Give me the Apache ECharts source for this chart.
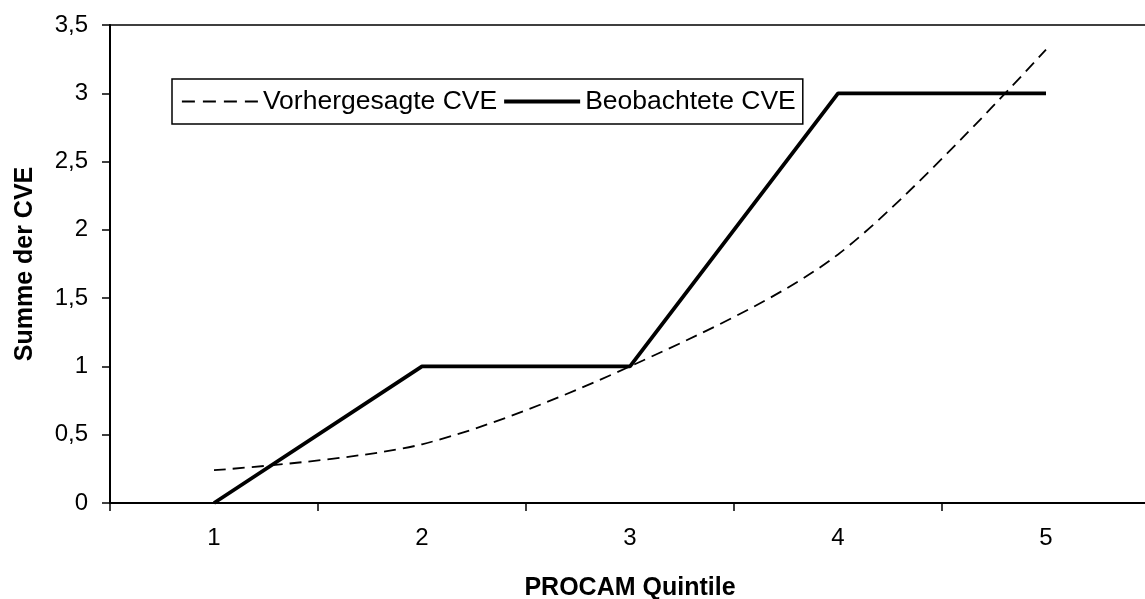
<!DOCTYPE html>
<html><head><meta charset="utf-8">
<script src="https://cdn.jsdelivr.net/npm/echarts@6/dist/echarts.min.js"></script>
<style>html,body{margin:0;padding:0;background:#fff}#c{width:1145px;height:599px}</style>
</head><body><div id="c"></div>
<script>
const categories = ['1', '2', '3', '4', '5'];
const predicted = [0.24, 0.43, 1.0, 1.82, 3.32];
const observed = [0, 1, 1, 3, 3];
const seriesNames = ['Vorhergesagte CVE', 'Beobachtete CVE'];

const chart = echarts.init(document.getElementById('c'));
const font = 'Liberation Sans, Arial, sans-serif';
chart.setOption({
  animation: false,
  backgroundColor: '#fff',
  grid: { left: 110, top: 25, right: -5, bottom: 96, outerBoundsMode: 'none', containLabel: false,
    show: true, borderColor: '#000', borderWidth: 1.5, backgroundColor: 'transparent' },
  legend: {
    left: 172, top: 79,
    itemWidth: 76, itemHeight: 12, itemGap: 5,
    padding: [9, 7, 9, 9],
    borderColor: '#000', borderWidth: 1.5,
    itemStyle: { color: 'rgba(0,0,0,0)', borderColor: 'rgba(0,0,0,0)', borderWidth: 0 },
    textStyle: { fontFamily: font, fontSize: 26.5, color: '#000' },
    data: [
      { name: seriesNames[0], lineStyle: { width: 1.8, type: [13, 8] } },
      { name: seriesNames[1], lineStyle: { width: 4 } }
    ]
  },
  xAxis: {
    type: 'category', data: categories, boundaryGap: true,
    name: 'PROCAM Quintile', nameLocation: 'middle', nameGap: 73,
    nameTextStyle: { fontFamily: font, fontSize: 25, fontWeight: 'bold', color: '#000' },
    axisLine: { lineStyle: { color: '#000', width: 2 } },
    axisTick: { show: true, length: 8, lineStyle: { color: '#000', width: 1.5 } },
    axisLabel: { fontFamily: font, fontSize: 24, color: '#000', margin: 23 },
    splitLine: { show: false }
  },
  yAxis: {
    type: 'value', min: 0, max: 3.5, interval: 0.5,
    name: 'Summe der CVE', nameLocation: 'middle', nameGap: 72, nameRotate: 90,
    nameTextStyle: { fontFamily: font, fontSize: 25, fontWeight: 'bold', color: '#000' },
    axisLine: { show: true, lineStyle: { color: '#000', width: 2 } },
    axisTick: { show: true, length: 8, lineStyle: { color: '#000', width: 1.5 } },
    axisLabel: { fontFamily: font, fontSize: 24, color: '#000', margin: 22,
      formatter: v => String(v).replace('.', ',') },
    splitLine: { show: false }
  },
  series: [
    { name: seriesNames[0], type: 'line', data: predicted, smooth: 0.3, symbol: 'none',
      itemStyle: { color: '#000' },
      lineStyle: { color: '#000', width: 1.8, type: [12, 7] } },
    { name: seriesNames[1], type: 'line', data: observed, smooth: false, symbol: 'none',
      itemStyle: { color: '#000' },
      lineStyle: { color: '#000', width: 3.8 } }
  ]
});
</script></body></html>
